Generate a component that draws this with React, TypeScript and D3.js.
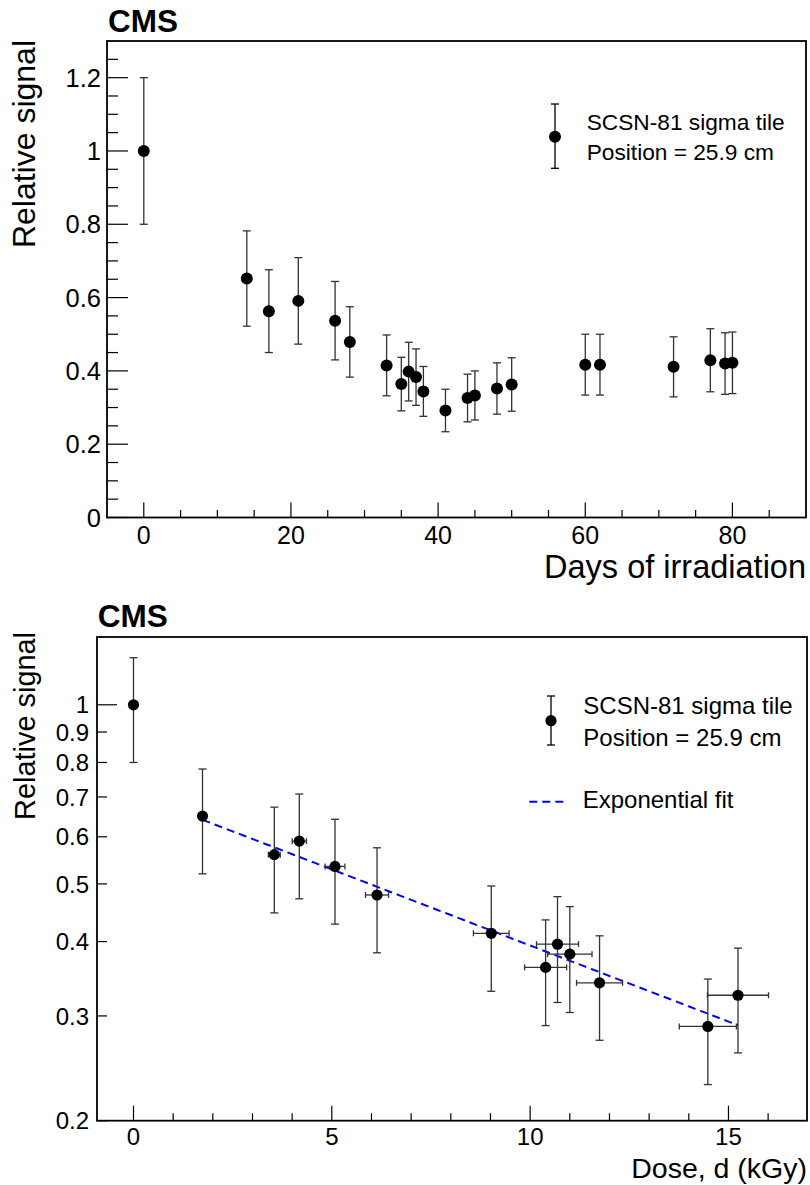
import React from "react";
import * as d3 from "d3";

// ---------- Data ----------
const days = [0, 14, 17, 21, 26, 28, 33, 35, 36, 37, 38, 41, 44, 45, 48, 50, 60, 62, 72, 77, 79, 80];
const signal = [1.0, 0.652, 0.563, 0.591, 0.537, 0.479, 0.415, 0.364, 0.398, 0.383, 0.344, 0.292, 0.326, 0.333, 0.352, 0.363, 0.417, 0.417, 0.411, 0.429, 0.42, 0.422];
const signalErr = [0.2, 0.13, 0.113, 0.118, 0.107, 0.096, 0.083, 0.073, 0.08, 0.077, 0.068, 0.058, 0.065, 0.067, 0.07, 0.073, 0.083, 0.083, 0.082, 0.086, 0.084, 0.084];

const dose = [0, 1.74, 3.55, 4.18, 5.08, 6.14, 9.02, 10.39, 10.69, 11.0, 11.75, 14.48, 15.24];
const doseErr = [0, 0, 0.15, 0.18, 0.25, 0.29, 0.45, 0.53, 0.53, 0.56, 0.58, 0.72, 0.77];
const doseSignal = [1.0, 0.65, 0.56, 0.59, 0.535, 0.479, 0.413, 0.362, 0.396, 0.381, 0.341, 0.288, 0.325];
const doseSignalErr = [0.2, 0.13, 0.113, 0.118, 0.107, 0.096, 0.083, 0.073, 0.08, 0.077, 0.068, 0.058, 0.065];

// exponential fit parameters: A * exp(-B * d)
const fitA = 0.71;
const fitB = 0.0589;
const fitRange = [1.74, 15.24];

const topXTicks = [0, 20, 40, 60, 80];
const topYTicks = [0, 0.2, 0.4, 0.6, 0.8, 1.0, 1.2];
const botXTicks = [0, 5, 10, 15];
const botYTicks = [0.2, 0.3, 0.4, 0.5, 0.6, 0.7, 0.8, 0.9, 1];

const FONT = "'Liberation Sans', Arial, Helvetica, sans-serif";
const ERR = "#333";

function range(a: number, b: number, step: number) {
  const out: number[] = [];
  for (let v = a; v <= b + 1e-9; v += step) out.push(+v.toFixed(6));
  return out;
}

function fmtY(v: number) {
  if (v === 0) return "0";
  if (Math.abs(v - 1) < 1e-9) return "1";
  return d3.format(".1f")(v);
}

export default function App() {
  // ---------- Top panel ----------
  const tL = 107, tR = 806, tT = 41, tB = 517.5;
  const tx = d3.scaleLinear().domain([-5, 90]).range([tL, tR]);
  const ty = d3.scaleLinear().domain([0, 1.3]).range([tB, tT]);

  // ---------- Bottom panel ----------
  const bL = 97, bR = 807, bT = 637, bB = 1120.7;
  const bx = d3.scaleLinear().domain([-0.92, 16.98]).range([bL, bR]);
  const by = d3.scaleLog().domain([0.2, 1.3]).range([bB, bT]);

  const fitPts = d3.range(0, 101).map((i) => {
    const d = fitRange[0] + ((fitRange[1] - fitRange[0]) * i) / 100;
    return [d, fitA * Math.exp(-fitB * d)] as [number, number];
  });
  const fitLine = d3
    .line<[number, number]>()
    .x((p) => bx(p[0]))
    .y((p) => by(p[1]))(fitPts) as string;

  const cap = 4;

  return (
    <svg
      width={810}
      height={1185}
      style={{ position: "absolute", left: 0, top: 0, background: "#fff" }}
      fontFamily={FONT}
    >
      <rect x={0} y={0} width={810} height={1185} fill="#fff" />

      {/* ===== TOP PANEL ===== */}
      <text x={108} y={32.3} fontSize={31.5} fontWeight="bold">CMS</text>

      {/* x ticks */}
      {range(0, 85, 5).map((v) => {
        const major = v % 20 === 0;
        return (
          <line key={"tx" + v} x1={tx(v)} x2={tx(v)} y1={tB} y2={tB - (major ? 15 : 7.5)} stroke="#000" strokeWidth={1.2} />
        );
      })}
      {topXTicks.map((v) => (
        <text key={"txl" + v} x={tx(v)} y={544} fontSize={25} textAnchor="middle">{v}</text>
      ))}
      {/* y ticks */}
      {range(0, 1.25, 0.05).map((v, i) => {
        const major = i % 4 === 0;
        return (
          <line key={"ty" + i} x1={tL} x2={tL + (major ? 21 : 11)} y1={ty(v)} y2={ty(v)} stroke="#000" strokeWidth={1.2} />
        );
      })}
      {topYTicks.map((v) => (
        <text key={"tyl" + v} x={101} y={ty(v) + 9.1} fontSize={25.5} textAnchor="end">{fmtY(v)}</text>
      ))}

      {/* data */}
      {days.map((d, i) => {
        const x = tx(d);
        const y1 = ty(signal[i] + signalErr[i]);
        const y0 = ty(signal[i] - signalErr[i]);
        return (
          <g key={"tp" + i}>
            <line x1={x} x2={x} y1={y1} y2={y0} stroke={ERR} strokeWidth={1.3} />
            <line x1={x - cap} x2={x + cap} y1={y1} y2={y1} stroke={ERR} strokeWidth={1.3} />
            <line x1={x - cap} x2={x + cap} y1={y0} y2={y0} stroke={ERR} strokeWidth={1.3} />
            <circle cx={x} cy={ty(signal[i])} r={6} fill="#000" />
          </g>
        );
      })}

      {/* frame */}
      <rect x={tL} y={tT} width={tR - tL} height={tB - tT} fill="none" stroke="#000" strokeWidth={1.8} />

      {/* axis titles */}
      <text x={806} y={578} fontSize={32.5} textAnchor="end">Days of irradiation</text>
      <text transform="translate(35,40) rotate(-90)" fontSize={32} textAnchor="end">Relative signal</text>

      {/* legend */}
      <g>
        <line x1={555} x2={555} y1={104} y2={168.3} stroke="#000" strokeWidth={1.3} />
        <line x1={551} x2={559} y1={104} y2={104} stroke="#000" strokeWidth={1.3} />
        <line x1={551} x2={559} y1={168.3} y2={168.3} stroke="#000" strokeWidth={1.3} />
        <circle cx={555} cy={136.7} r={6} fill="#000" />
        <text x={586.7} y={130} fontSize={22.7}>SCSN-81 sigma tile</text>
        <text x={586.7} y={160} fontSize={22.7}>Position = 25.9 cm</text>
      </g>

      {/* ===== BOTTOM PANEL ===== */}
      <text x={97.7} y={627.3} fontSize={31.5} fontWeight="bold">CMS</text>

      {range(0, 16, 1).map((v) => {
        const major = v % 5 === 0;
        return (
          <line key={"bx" + v} x1={bx(v)} x2={bx(v)} y1={bB} y2={bB - (major ? 15 : 7.5)} stroke="#000" strokeWidth={1.2} />
        );
      })}
      {botXTicks.map((v) => (
        <text key={"bxl" + v} x={bx(v)} y={1145} fontSize={24} textAnchor="middle">{v}</text>
      ))}
      {botYTicks.map((v) => (
        <g key={"by" + v}>
          <line x1={bL} x2={bL + (v === 1 ? 20 : 10)} y1={by(v)} y2={by(v)} stroke="#000" strokeWidth={1.2} />
          <text x={89} y={by(v) + 8.6} fontSize={24} textAnchor="end">{fmtY(v)}</text>
        </g>
      ))}

      {/* fit */}
      <path d={fitLine} fill="none" stroke="#0000ff" strokeWidth={2} strokeDasharray="8,5" />

      {/* data */}
      {dose.map((d, i) => {
        const x = bx(d);
        const y = by(doseSignal[i]);
        const y1 = by(doseSignal[i] + doseSignalErr[i]);
        const y0 = by(doseSignal[i] - doseSignalErr[i]);
        const xl = bx(d - doseErr[i]);
        const xr = bx(d + doseErr[i]);
        return (
          <g key={"bp" + i}>
            <line x1={x} x2={x} y1={y1} y2={y0} stroke={ERR} strokeWidth={1.3} />
            <line x1={x - cap} x2={x + cap} y1={y1} y2={y1} stroke={ERR} strokeWidth={1.3} />
            <line x1={x - cap} x2={x + cap} y1={y0} y2={y0} stroke={ERR} strokeWidth={1.3} />
            {doseErr[i] > 0 && (
              <g>
                <line x1={xl} x2={xr} y1={y} y2={y} stroke={ERR} strokeWidth={1.3} />
                <line x1={xl} x2={xl} y1={y - 3} y2={y + 3} stroke={ERR} strokeWidth={1.3} />
                <line x1={xr} x2={xr} y1={y - 3} y2={y + 3} stroke={ERR} strokeWidth={1.3} />
              </g>
            )}
            <circle cx={x} cy={y} r={5.6} fill="#000" />
          </g>
        );
      })}

      <rect x={bL} y={bT} width={bR - bL} height={bB - bT} fill="none" stroke="#000" strokeWidth={1.8} />

      <text x={807} y={1178.4} fontSize={28.5} textAnchor="end">Dose, d (kGy)</text>
      <text transform="translate(35,632) rotate(-90)" fontSize={28.9} textAnchor="end">Relative signal</text>

      {/* legend */}
      <g>
        <line x1={551} x2={551} y1={696} y2={745} stroke="#000" strokeWidth={1.3} />
        <line x1={547} x2={555} y1={696} y2={696} stroke="#000" strokeWidth={1.3} />
        <line x1={547} x2={555} y1={745} y2={745} stroke="#000" strokeWidth={1.3} />
        <circle cx={551} cy={720.7} r={5.6} fill="#000" />
        <text x={583.3} y={714.3} fontSize={24}>SCSN-81 sigma tile</text>
        <text x={583.3} y={745.5} fontSize={24}>Position = 25.9 cm</text>
        <line x1={529.3} x2={566.7} y1={801.7} y2={801.7} stroke="#0000ff" strokeWidth={2} strokeDasharray="8,5" />
        <text x={582.7} y={808} fontSize={24}>Exponential fit</text>
      </g>
    </svg>
  );
}
